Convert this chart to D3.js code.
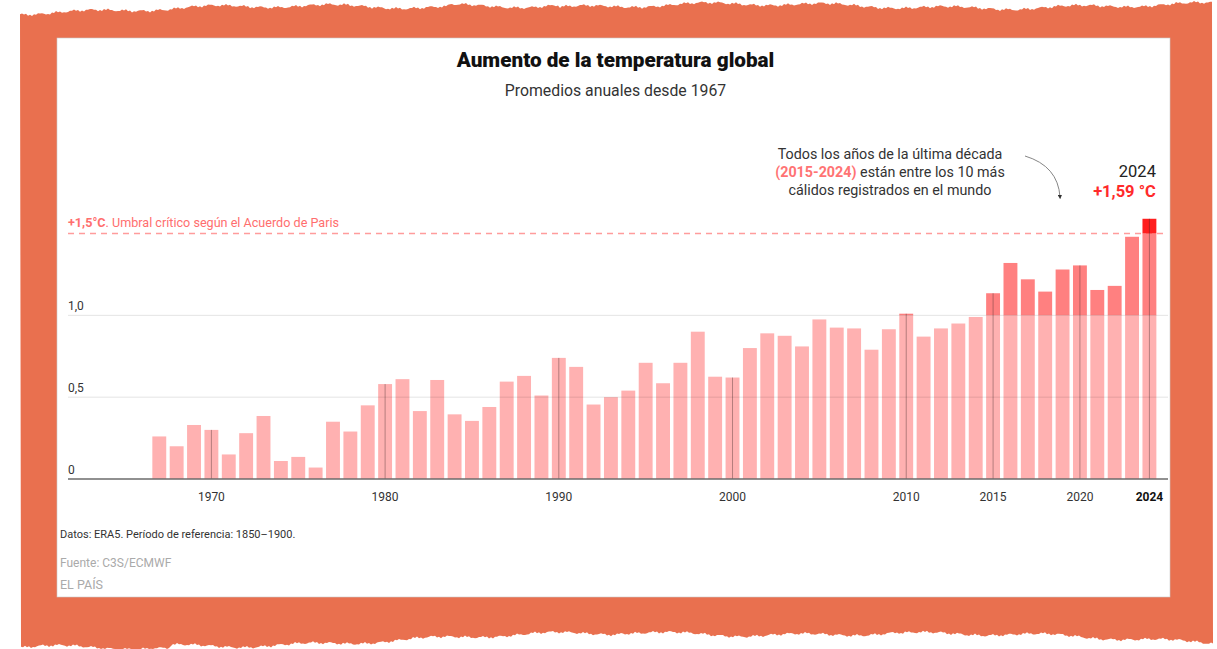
<!DOCTYPE html>
<html>
<head>
<meta charset="utf-8">
<script src="https://cdn.jsdelivr.net/npm/d3@7"></script>
<style>
  html, body { margin: 0; padding: 0; background: #fff; }
  svg { display: block; }
  text { font-family: Roboto, "Open Sans", sans-serif; }
</style>
</head>
<body>
<svg id="chart" width="1217" height="649"></svg>
<script>
// ---------- DATA ----------
const years = d3.range(1967, 2025);
const anomalies = [
  0.26, 0.20, 0.33, 0.30, 0.15, 0.28, 0.385, 0.11, 0.135, 0.07,
  0.35, 0.29, 0.45, 0.58, 0.61, 0.415, 0.605, 0.395, 0.355, 0.44,
  0.595, 0.63, 0.51, 0.74, 0.685, 0.455, 0.50, 0.54, 0.71, 0.585,
  0.71, 0.90, 0.625, 0.62, 0.80, 0.89, 0.875, 0.81, 0.975, 0.925,
  0.92, 0.79, 0.915, 1.01, 0.87, 0.92, 0.95, 0.99, 1.135, 1.32,
  1.22, 1.145, 1.28, 1.305, 1.155, 1.18, 1.48, 1.59
];
const yTicks = [0, 0.5, 1.0];
const yTickLabels = ["0", "0,5", "1,0"];
const xTickYears = [1970, 1980, 1990, 2000, 2010, 2015, 2020, 2024];
const threshold = 1.5;
const midLevel = 1.0;
const title = "Aumento de la temperatura global";
const subtitle = "Promedios anuales desde 1967";
const noteLines = [
  [{t: "Todos los años de la última década", b: false}],
  [{t: "(2015-2024)", b: true}, {t: " están entre los 10 más", b: false}],
  [{t: "cálidos registrados en el mundo", b: false}]
];
const lastYearLabel = "2024";
const lastValueLabel = "+1,59 °C";
const thresholdBold = "+1,5°C";
const thresholdText = ". Umbral crítico según el Acuerdo de Paris";
const footNote = "Datos: ERA5. Período de referencia: 1850–1900.";
const source = "Fuente: C3S/ECMWF";
const credit = "EL PAÍS";

const data = years.map((y, i) => ({year: y, value: anomalies[i]}));

// ---------- SETUP ----------
const svg = d3.select("#chart");
const ORANGE = "#E9704F";

// torn-paper orange frame (decorative)
function wobble(x, seed) {
  return Math.sin(x * 0.013 + seed) * 2.2 + Math.sin(x * 0.37 + seed * 2) * 0.9 +
         Math.sin(x * 1.7 + seed * 3) * 0.7 + Math.sin(x * 0.051 + seed * 5) * 1.6;
}
const fx0 = 20, fx1 = 1213;
const topEdge = d3.range(fx0, fx1 + 1, 2).map(x => {
  const base = x < 450 ? 11 - (x - fx0) / 430 * 5 : (x < 560 ? 4 : 6);
  return [x, base + wobble(x, 1.3)];
});
const botEdge = d3.range(fx1, fx0 - 1, -2).map(x => {
  let base;
  if (x < 170) base = 649;
  else if (x < 620) base = 646 - (x - 170) / 450 * 12;
  else if (x < 900) base = 633;
  else base = 634 + (x - 900) / 313 * 7;
  return [x, Math.min(649, base + wobble(x, 4.1))];
});
svg.append("path")
  .attr("d", d3.line()(topEdge.concat(botEdge)) + "Z")
  .attr("fill", ORANGE);

// white panel
const P = {x0: 57, y0: 38, x1: 1170, y1: 597};
svg.append("rect")
  .attr("x", P.x0).attr("y", P.y0)
  .attr("width", P.x1 - P.x0).attr("height", P.y1 - P.y0)
  .attr("fill", "#fff").attr("stroke", "#c9c9c9").attr("stroke-width", 0.6);

// ---------- SCALES ----------
const x = d3.scaleBand()
  .domain(years)
  .range([150.6, 1158.1])
  .paddingInner(0.2)
  .paddingOuter(0.1);
const y = d3.scaleLinear()
  .domain([0, 1.5])
  .range([479, 233.5]);
const lineX0 = 68, lineX1 = 1168;

// ---------- TITLES ----------
svg.append("text")
  .attr("x", 615.5).attr("y", 67)
  .attr("text-anchor", "middle")
  .attr("font-size", 20.7).attr("font-weight", 900)
  .attr("fill", "#111")
  .text(title);
svg.append("text")
  .attr("x", 615.5).attr("y", 96)
  .attr("text-anchor", "middle")
  .attr("font-size", 15.8).attr("fill", "#333")
  .text(subtitle);

// ---------- THRESHOLD LINE ----------
svg.append("line")
  .attr("x1", lineX0).attr("x2", lineX1)
  .attr("y1", y(threshold)).attr("y2", y(threshold))
  .attr("stroke", "#FF9C9C").attr("stroke-width", 1.3)
  .attr("stroke-dasharray", "6,5");
const thr = svg.append("text")
  .attr("x", lineX0).attr("y", y(threshold) - 7)
  .attr("font-size", 12.6).attr("fill", "#FF6E6E");
thr.append("tspan").attr("font-weight", 700).text(thresholdBold);
thr.append("tspan").text(thresholdText);

// ---------- BARS ----------
const g = svg.append("g");
g.selectAll("rect.base").data(data).join("rect")
  .attr("class", "base")
  .attr("x", d => x(d.year))
  .attr("width", x.bandwidth())
  .attr("y", d => y(Math.min(d.value, midLevel)))
  .attr("height", d => y(0) - y(Math.min(d.value, midLevel)))
  .attr("fill", "#FFB1B1");
g.selectAll("rect.mid").data(data.filter(d => d.value > midLevel)).join("rect")
  .attr("class", "mid")
  .attr("x", d => x(d.year))
  .attr("width", x.bandwidth())
  .attr("y", d => y(Math.min(d.value, threshold)))
  .attr("height", d => y(midLevel) - y(Math.min(d.value, threshold)))
  .attr("fill", "#FF8080");
g.selectAll("rect.top").data(data.filter(d => d.value > threshold)).join("rect")
  .attr("class", "top")
  .attr("x", d => x(d.year))
  .attr("width", x.bandwidth())
  .attr("y", d => y(d.value))
  .attr("height", d => y(threshold) - y(d.value))
  .attr("fill", "#FF1E1E");

// vertical tick lines through labelled years
g.selectAll("line.vt").data(data.filter(d => xTickYears.includes(d.year))).join("line")
  .attr("class", "vt")
  .attr("x1", d => x(d.year) + x.bandwidth() / 2)
  .attr("x2", d => x(d.year) + x.bandwidth() / 2)
  .attr("y1", d => y(d.value))
  .attr("y2", y(0))
  .attr("stroke", "rgba(60,40,40,0.38)")
  .attr("stroke-width", 1);

// ---------- GRID + Y AXIS ----------
yTicks.forEach((t, i) => {
  if (t > 0) {
    svg.append("line")
      .attr("x1", lineX0).attr("x2", lineX1)
      .attr("y1", y(t)).attr("y2", y(t))
      .attr("stroke", "rgba(0,0,0,0.11)").attr("stroke-width", 1);
  }
  svg.append("text")
    .attr("x", lineX0).attr("y", y(t) - 5)
    .attr("font-size", 12).attr("fill", "#333")
    .text(yTickLabels[i]);
});
svg.append("line")
  .attr("x1", lineX0).attr("x2", lineX1)
  .attr("y1", y(0)).attr("y2", y(0))
  .attr("stroke", "#6b6b6b").attr("stroke-width", 1.5);

// ---------- X AXIS LABELS ----------
svg.selectAll("text.xl").data(xTickYears).join("text")
  .attr("class", "xl")
  .attr("x", d => x(d) + x.bandwidth() / 2)
  .attr("y", 501)
  .attr("text-anchor", "middle")
  .attr("font-size", 12)
  .attr("font-weight", d => d === 2024 ? 700 : 400)
  .attr("fill", d => d === 2024 ? "#111" : "#333")
  .text(d => d);

// ---------- ANNOTATIONS ----------
const note = svg.append("text")
  .attr("text-anchor", "middle")
  .attr("font-size", 14.3).attr("fill", "#333");
noteLines.forEach((parts, i) => {
  parts.forEach((p, j) => {
    const ts = note.append("tspan").text(p.t);
    if (j === 0) ts.attr("x", 890).attr("y", 159 + i * 18);
    if (p.b) ts.attr("font-weight", 700).attr("fill", "#FF7373");
  });
});

// curved arrow
svg.append("defs").append("marker")
  .attr("id", "ah").attr("viewBox", "0 0 10 10")
  .attr("refX", 5).attr("refY", 5)
  .attr("markerWidth", 5).attr("markerHeight", 5)
  .attr("orient", "auto")
  .append("path").attr("d", "M0,0 L10,5 L0,10 Z").attr("fill", "#333");
svg.append("path")
  .attr("d", "M1025,156 Q1058,166 1060,197")
  .attr("fill", "none").attr("stroke", "#777").attr("stroke-width", 0.9)
  .attr("marker-end", "url(#ah)");

const lastX = x(2024) + x.bandwidth() / 2 + 6.5;
svg.append("text")
  .attr("x", lastX).attr("y", 177)
  .attr("text-anchor", "end")
  .attr("font-size", 16.5).attr("fill", "#222")
  .text(lastYearLabel);
svg.append("text")
  .attr("x", lastX).attr("y", 197)
  .attr("text-anchor", "end")
  .attr("font-size", 16.5).attr("font-weight", 700).attr("fill", "#FF2B2B")
  .text(lastValueLabel);

// ---------- FOOTER ----------
svg.append("text")
  .attr("x", 60).attr("y", 538)
  .attr("font-size", 11).attr("fill", "#333")
  .text(footNote);
svg.append("text")
  .attr("x", 60).attr("y", 567)
  .attr("font-size", 12).attr("fill", "#aaa")
  .text(source);
svg.append("text")
  .attr("x", 60).attr("y", 589)
  .attr("font-size", 12.5).attr("fill", "#aaa")
  .text(credit);
</script>
</body>
</html>
